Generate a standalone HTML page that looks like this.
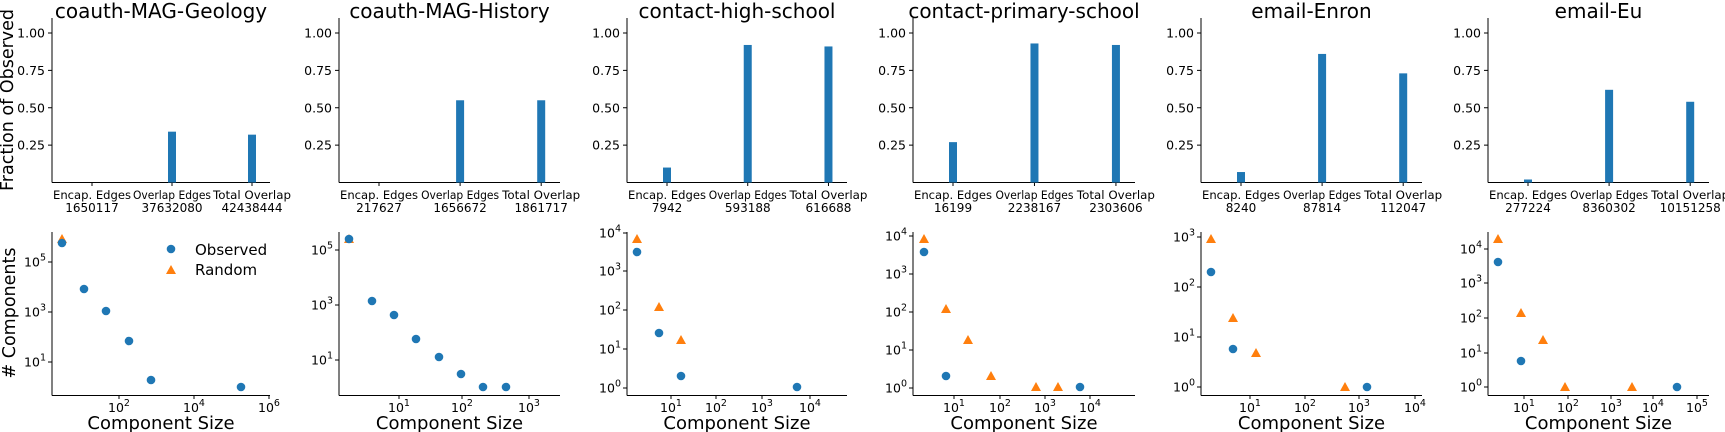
<!DOCTYPE html>
<html><head><meta charset="utf-8"><style>
html,body{margin:0;padding:0;background:#fff;}
svg{display:block;font-family:"DejaVu Sans","Liberation Sans",sans-serif;}
</style></head><body>
<svg id="s" width="1725" height="432" xmlns="http://www.w3.org/2000/svg"></svg>
<script>
const s=document.getElementById('s');let h='';
const titles=['coauth-MAG-Geology','coauth-MAG-History','contact-high-school','contact-primary-school','email-Enron','email-Eu'];
const lefts=[52,339,627,913,1201,1488];
const bars=[[0,0.34,0.32],[0,0.55,0.55],[0.10,0.92,0.91],[0.27,0.93,0.92],[0.07,0.86,0.73],[0.02,0.62,0.54]];
const nums=[['1650117','37632080','42438444'],['217627','1656672','1861717'],['7942','593188','616688'],['16199','2238167','2303606'],['8240','87814','112047'],['277224','8360302','10151258']];
const C='#1f77b4',O='#ff7f0e';
function sup(b,e){return `10<tspan dy="-6" font-size="9.5">${e}</tspan>`;}
const B=[
 {r:270,yt:[[262,5],[312,3],[362,1]],xt:[[119,2],[194,4],[269,6]],o:[[62,243],[84,289],[106,311],[129,341],[151,380],[241,387]],q:[[62,239]]},
 {r:560,yt:[[250,5],[305,3],[360,1]],xt:[[399,1],[462,2],[529,3]],o:[[349,239],[372,301],[394,315],[416,339],[439,357],[461,374],[483,387],[506,387]],q:[[349,239]]},
 {r:847,yt:[[233,4],[271,3],[310,2],[349,1],[388,0]],xt:[[671,1],[716,2],[762,3],[810,4]],o:[[637,252],[659,333],[681,376],[797,387]],q:[[637,239],[659,307],[681,340]]},
 {r:1135,yt:[[236,4],[274,3],[312,2],[350,1],[388,0]],xt:[[954,1],[1000,2],[1045,3],[1090,4]],o:[[924,252],[946,376],[1080,387]],q:[[924,239],[946,309],[968,340],[991,376],[1036,387],[1058,387]]},
 {r:1422,yt:[[237,3],[287,2],[337,1],[387,0]],xt:[[1250,1],[1305,2],[1359,3],[1415,4]],o:[[1211,272],[1233,349],[1367,387]],q:[[1211,239],[1233,318],[1256,353],[1345,387]]},
 {r:1709,yt:[[249,4],[283,3],[318,2],[353,1],[387,0]],xt:[[1524,1],[1568,2],[1611,3],[1653,4],[1697,5]],o:[[1498,262],[1521,361],[1677,387]],q:[[1498,239],[1521,313],[1543,340],[1565,387],[1632,387]]}
];
for(let i=0;i<6;i++){
 const x0=lefts[i],xr=B[i].r,w=xr-x0;
 h+=`<text x="${x0+w/2}" y="18" font-size="20" text-anchor="middle">${titles[i]}</text>`;
 h+=`<line x1="${x0}" y1="18" x2="${x0}" y2="182.5" stroke="#000" stroke-width="1"/>`;
 h+=`<line x1="${x0}" y1="182.5" x2="${xr}" y2="182.5" stroke="#000" stroke-width="1"/>`;
 [[1,'1.00'],[0.75,'0.75'],[0.5,'0.50'],[0.25,'0.25']].forEach(([v,l])=>{const y=182.5-v*149.5;
  h+=`<line x1="${x0-4}" y1="${y}" x2="${x0}" y2="${y}" stroke="#000"/><text x="${x0-7}" y="${y+4.5}" font-size="12.5" text-anchor="end">${l}</text>`;});
 const cats=['Encap. Edges','Overlap Edges','Total Overlap'];
 for(let k=0;k<3;k++){const cx=x0+40+80*k*(w/218);const v=bars[i][k];
  if(v>0)h+=`<rect x="${cx-4}" y="${182.5-v*149.5}" width="8" height="${v*149.5}" fill="${C}"/>`;
  h+=`<line x1="${cx}" y1="182.5" x2="${cx}" y2="186" stroke="#000"/>`;
  h+=`<text x="${cx-39}" y="199" font-size="11.5" textLength="78" lengthAdjust="spacingAndGlyphs">${cats[k]}</text><text x="${cx}" y="212" font-size="12" text-anchor="middle">${nums[i][k]}</text>`;}
 h+=`<line x1="${x0}" y1="232" x2="${x0}" y2="395.5" stroke="#000"/><line x1="${x0}" y1="395.5" x2="${xr}" y2="395.5" stroke="#000"/>`;
 B[i].yt.forEach(([y,e])=>{h+=`<line x1="${x0-4}" y1="${y}" x2="${x0}" y2="${y}" stroke="#000"/><text x="${x0-6}" y="${y+4.5}" font-size="12.5" text-anchor="end">${sup(10,e)}</text>`;});
 B[i].xt.forEach(([x,e])=>{h+=`<line x1="${x}" y1="395.5" x2="${x}" y2="399" stroke="#000"/><text x="${x}" y="412" font-size="12.5" text-anchor="middle">${sup(10,e)}</text>`;});
 h+=`<text x="${x0+w/2}" y="429" font-size="18" text-anchor="middle">Component Size</text>`;
 B[i].q.forEach(([x,y])=>{h+=`<polygon points="${x},${y-5} ${x+5},${y+4} ${x-5},${y+4}" fill="${O}"/>`;});
 B[i].o.forEach(([x,y])=>{h+=`<circle cx="${x}" cy="${y}" r="4.3" fill="${C}"/>`;});
}
h+=`<text transform="translate(13,100) rotate(-90)" font-size="17.5" text-anchor="middle">Fraction of Observed</text>`;
h+=`<text transform="translate(15,313) rotate(-90)" font-size="17.5" text-anchor="middle"># Components</text>`;
h+=`<circle cx="171" cy="249" r="4.3" fill="${C}"/><text x="195" y="255" font-size="15">Observed</text>`;
h+=`<polygon points="171,265 176,274 166,274" fill="${O}"/><text x="195" y="275" font-size="15">Random</text>`;
s.innerHTML=h;
</script>
</body></html>
